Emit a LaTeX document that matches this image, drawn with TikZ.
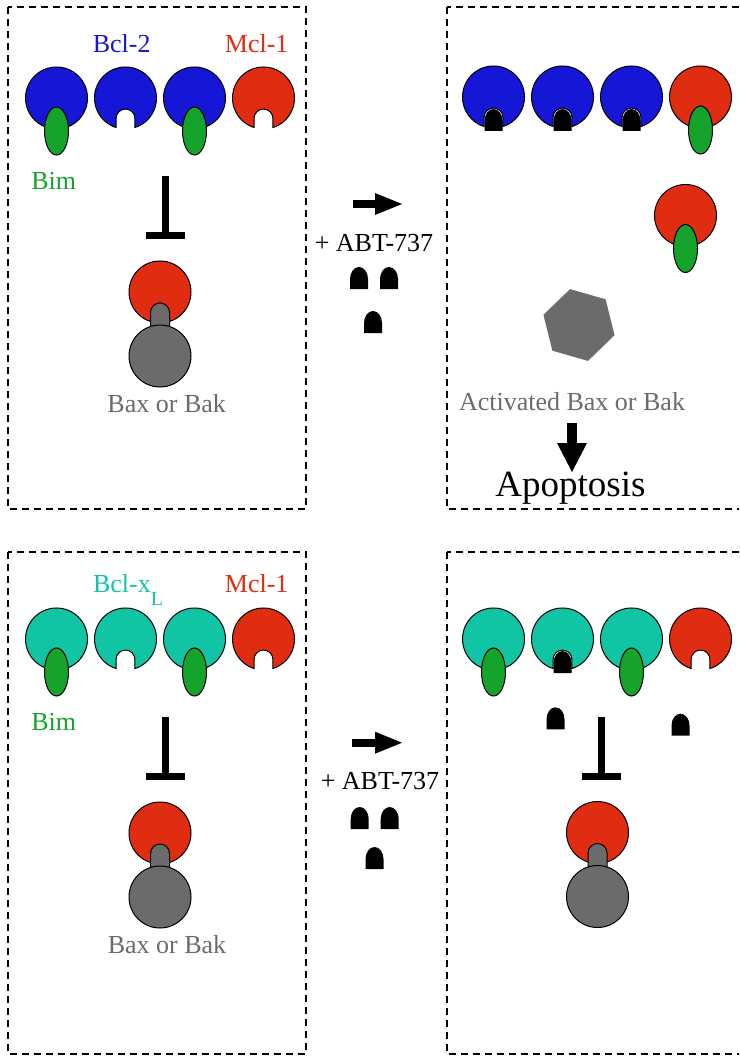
\documentclass[tikz,border=0pt]{standalone}
\usepackage{fontspec}
\setmainfont{Liberation Serif}
\usepackage{xcolor}
\usepackage{tikz}
\usetikzlibrary{arrows.meta}
\definecolor{bclblue}{HTML}{1616D6}
\definecolor{mclred}{HTML}{E02C10}
\definecolor{bimgreen}{HTML}{15A32C}
\definecolor{xlteal}{HTML}{10C4A4}
\definecolor{baxgray}{HTML}{6B6B6B}

\begin{document}
\begin{tikzpicture}[x=1pt, y=1pt,
 font=\fontsize{26}{30}\selectfont,
 lbl/.style={inner sep=0pt, anchor=base},
 panel/.style={draw, dash pattern=on 7pt off 5pt, line width=1.2pt},
 outl/.style={draw=black, line width=1pt},
 fatarrow/.style={line width=8pt, -{Triangle[length=27pt, width=22pt, line width=0pt]}},
 downarrow/.style={line width=10pt, -{Triangle[length=29pt, width=30pt, line width=0pt]}},
 receptor/.pic={\path[outl, fill=#1] (-72.2:31) arc[start angle=-72.2, end angle=252.2, radius=31]
   -- ++(0,9) arc[start angle=180, end angle=0, radius=9.46] -- cycle;},
 bim/.pic={\path[outl, fill=bimgreen] (0,-33) ellipse[x radius=12, y radius=24];},
 abt/.pic={\fill (-9,0) -- (-9,10) arc[start angle=180, end angle=0, x radius=9, y radius=12] -- (9,0) -- cycle;},
 baxbak/.pic={\path[outl, fill=mclred] (0,0) circle[radius=31];
   \path[outl, fill=baxgray] (-9.5,-44) -- (-9.5,-20.5) arc[start angle=180, end angle=0, radius=9.5] -- (9.5,-44) -- cycle;
   \path[outl, fill=baxgray] (0,-64) circle[radius=31];},
 inhib/.pic={\fill (-3.5,0) rectangle (3.5,-63); \fill (-19.5,-56) rectangle (19.5,-63);}]
\useasboundingbox (0,0) rectangle (739,-1056);
\clip (0,0) rectangle (739,-1056);

% panels
\draw[panel] (8,-7) rectangle (306,-509);
\draw[panel] (447,-7) rectangle (745,-509);
\draw[panel] (8,-552) rectangle (306,-1054);
\draw[panel] (447,-552) rectangle (745,-1054);

% Bcl-2 / Mcl-1 with Bim
\pic at (56.5,-98) {receptor=bclblue};
\pic at (125.5,-98) {receptor=bclblue};
\pic at (194.5,-98) {receptor=bclblue};
\pic at (263.5,-98) {receptor=mclred};
\pic at (56.5,-98) {bim};
\pic at (194.5,-98) {bim};
\node[lbl, text=bclblue] (bcltwo) at (121.7,-52.7) {Bcl-2};
\node[lbl, text=mclred] (mclA) at (256.7,-52.7) {Mcl-1};
\node[lbl, text=bimgreen] (bimA) at (53.8,-189.3) {Bim};
\pic at (165.8,-176) {inhib};
\pic at (160,-292) {baxbak};
\node[lbl, text=baxgray] (baxA) at (166.7,-412.7) {Bax or Bak};

\coordinate (shiftA) at (353,-204);
\draw[fatarrow] (shiftA) -- ++(49,0);
\node[lbl] (abtA) at (374,-251.7) {+ ABT-737};
\pic at (359,-289) {abt};
\pic at (389,-289) {abt};
\pic at (373,-333) {abt};

% after ABT-737
\pic at (493.5,-97) {receptor=bclblue};
\pic at (562.5,-97) {receptor=bclblue};
\pic at (631.5,-97) {receptor=bclblue};
\pic at (700.5,-97) {receptor=mclred};
\pic at (493.5,-131) {abt};
\pic at (562.5,-131) {abt};
\pic at (631.5,-131) {abt};
\pic at (700.5,-97) {bim};
\pic at (685.5,-215.5) {receptor=mclred};
\pic at (685.5,-215.5) {bim};
\fill[baxgray] (579,-325) +(104:37) -- +(164:37) -- +(224:37) -- +(284:37) -- +(344:37) -- +(44:37) -- cycle;
\node[lbl, text=baxgray] (act) at (572,-410) {Activated Bax or Bak};
\node[lbl, font=\fontsize{37}{40}\selectfont] (apo) at (570.5,-496.7) {Apoptosis};
\draw[downarrow, shorten <=13pt] (act.south) -- (act.south |- apo.north);

% Bcl-xL / Mcl-1 with Bim
\pic at (56.5,-639) {receptor=xlteal};
\pic at (125.5,-639) {receptor=xlteal};
\pic at (194.5,-639) {receptor=xlteal};
\pic at (263.5,-639) {receptor=mclred};
\pic at (56.5,-639) {bim};
\pic at (194.5,-639) {bim};
\node[lbl, text=xlteal] (bclxl) at (128,-592.7) {Bcl-x\raisebox{-13pt}{\fontsize{20}{20}\selectfont L}};
\node[lbl, text=mclred] (mclB) at (256.7,-592.7) {Mcl-1};
\node[lbl, text=bimgreen] (bimB) at (53.8,-730) {Bim};
\pic at (165.8,-717) {inhib};
\pic at (160,-833) {baxbak};
\node[lbl, text=baxgray] (baxB) at (167,-953.3) {Bax or Bak};

\coordinate (shiftB) at (352,-742.7);
\draw[fatarrow] (shiftB) -- ++(50,0);
\node[lbl] (abtB) at (380,-789.3) {+ ABT-737};
\pic at (359.7,-829) {abt};
\pic at (389.7,-829) {abt};
\pic at (374.5,-869) {abt};

% after ABT-737, Mcl-1 still holds Bim
\pic at (493.5,-639) {receptor=xlteal};
\pic at (562.5,-639) {receptor=xlteal};
\pic at (631.5,-639) {receptor=xlteal};
\pic at (700.5,-639) {receptor=mclred};
\pic at (493.5,-639) {bim};
\pic at (631.5,-639) {bim};
\pic at (562.5,-673) {abt};
\pic at (555.5,-729.3) {abt};
\pic at (680.5,-735.7) {abt};
\pic at (601.7,-717) {inhib};
\pic at (597.5,-832.5) {baxbak};

\end{tikzpicture}
\end{document}
